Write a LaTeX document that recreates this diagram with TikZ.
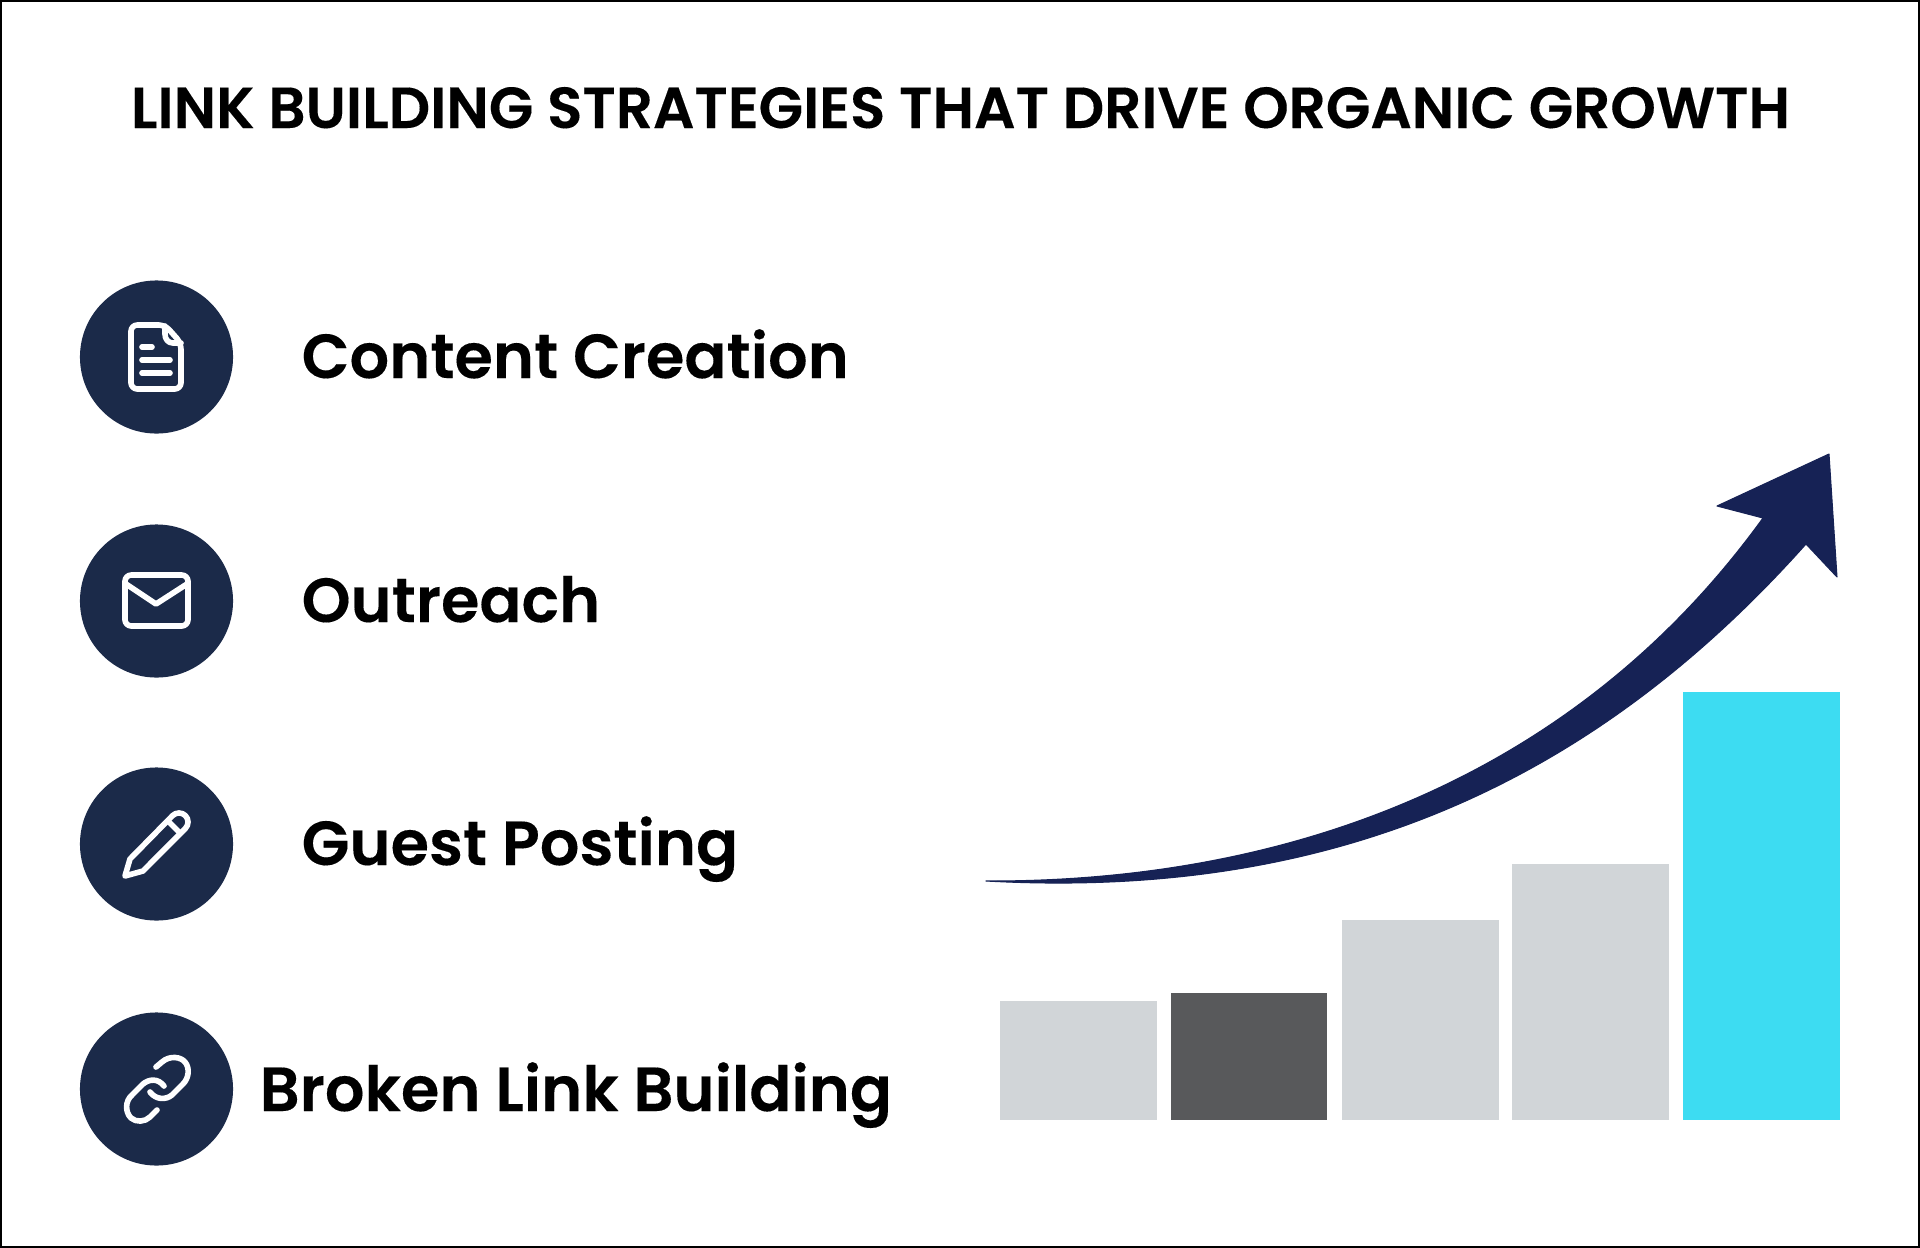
\documentclass[tikz,border=0pt]{standalone}
\usepackage{fontspec}
\setmainfont{Poppins}[BoldFont = {Poppins SemiBold}, BoldFeatures = {FakeBold = 0.2}]
\definecolor{circleblue}{HTML}{1B2A49}
\definecolor{arrowblue}{HTML}{162255}
\definecolor{barlight}{HTML}{D1D5D8}
\definecolor{bardark}{HTML}{58595B}
\definecolor{barcyan}{HTML}{3DDCF2}
\tikzset{
	iconcircle/.style = {circle, fill = circleblue, minimum size = 1.53cm, inner sep = 0pt},
	iconline/.style = {draw = white, line width = 1.6pt, line cap = round, line join = round},
	itemlabel/.style = {anchor = base west, inner sep = 0pt, font = \fontsize{17.7pt}{22pt}\bfseries},
}

\begin{document}
\begin{tikzpicture}[x = 0.01cm, y = -0.01cm]

	\useasboundingbox (0, 0) rectangle (1920, 1248);
	\fill[white] (0, 0) rectangle (1920, 1248);
	\draw[black, line width = 0.5pt] (1, 1) rectangle (1919, 1247);

	\node[black, anchor = base, inner sep = 0pt, font = \fontsize{16.47pt}{20pt}\bfseries] (title) at (960.5, 128) {LINK BUILDING STRATEGIES THAT DRIVE ORGANIC GROWTH};

	\node[iconcircle] (content) at (156.5, 357) {};
	\node[iconcircle] (outreach) at (156.5, 601) {};
	\node[iconcircle] (guest) at (156.5, 844) {};
	\node[iconcircle] (broken) at (156.5, 1089) {};

	\node[itemlabel] (contentlabel) at (301, 378) {Content Creation};
	\node[itemlabel] (outreachlabel) at (301, 622) {Outreach};
	\node[itemlabel] (guestlabel) at (301, 865) {Guest Posting};
	\node[itemlabel] (brokenlabel) at (259, 1111) {Broken Link Building};

	% document
	\draw[iconline, rounded corners = 1.8pt] (131, 325) -- (165, 325) -- (181, 343) -- (181, 389) -- (131, 389) -- cycle;
	\draw[iconline] (165, 326) -- (165, 334) .. controls (165, 339) and (168, 343) .. (173, 343) -- (181, 343);
	\draw[iconline] (142, 347) -- (152, 347);
	\draw[iconline] (142, 360) -- (170, 360);
	\draw[iconline] (142, 373) -- (170, 373);

	% envelope
	\draw[iconline, rounded corners = 1.8pt] (125, 575) rectangle (188, 626);
	\draw[iconline] (126, 584) -- (156, 604) -- (187, 584);

	% pencil
	\draw[iconline] (125, 876) -- (130, 859) -- (172.6, 815.6) .. controls (176.1, 812.1) and (181.9, 812.1) .. (185.4, 815.6) .. controls (188.9, 819.1) and (188.9, 824.9) .. (185.4, 828.4) -- (143, 871) -- cycle;
	\draw[iconline] (168, 821) -- (180, 833);

	% chain
	\draw[iconline] (156, 1067) -- (162, 1062) .. controls (170, 1055) and (181, 1057) .. (185, 1062) .. controls (190, 1068) and (189, 1078) .. (183, 1084) -- (172, 1095) .. controls (166, 1100) and (156, 1100) .. (150, 1092);
	\draw[iconline] (164, 1086) .. controls (158, 1078) and (149, 1079) .. (143, 1084) -- (132, 1095) .. controls (125, 1101) and (125, 1112) .. (131, 1118) .. controls (136, 1122.5) and (145, 1122) .. (150, 1117) -- (157, 1110);

	% bars
	\fill[barlight] (1000, 1001) rectangle (1157, 1120);
	\fill[bardark] (1171, 993) rectangle (1327, 1120);
	\fill[barlight] (1342, 920) rectangle (1499, 1120);
	\fill[barlight] (1512, 864) rectangle (1669, 1120);
	\fill[barcyan] (1683, 692) rectangle (1840, 1120);

	% arrow
	\filldraw[arrowblue, line width = 0.3pt, line join = round] (986, 881) .. controls (1290, 882) and (1575, 778) .. (1763, 518) -- (1717, 506) -- (1829, 454) -- (1837, 577) -- (1806, 544) .. controls (1590, 786) and (1330, 900) .. (986, 881) -- cycle;

\end{tikzpicture}
\end{document}
